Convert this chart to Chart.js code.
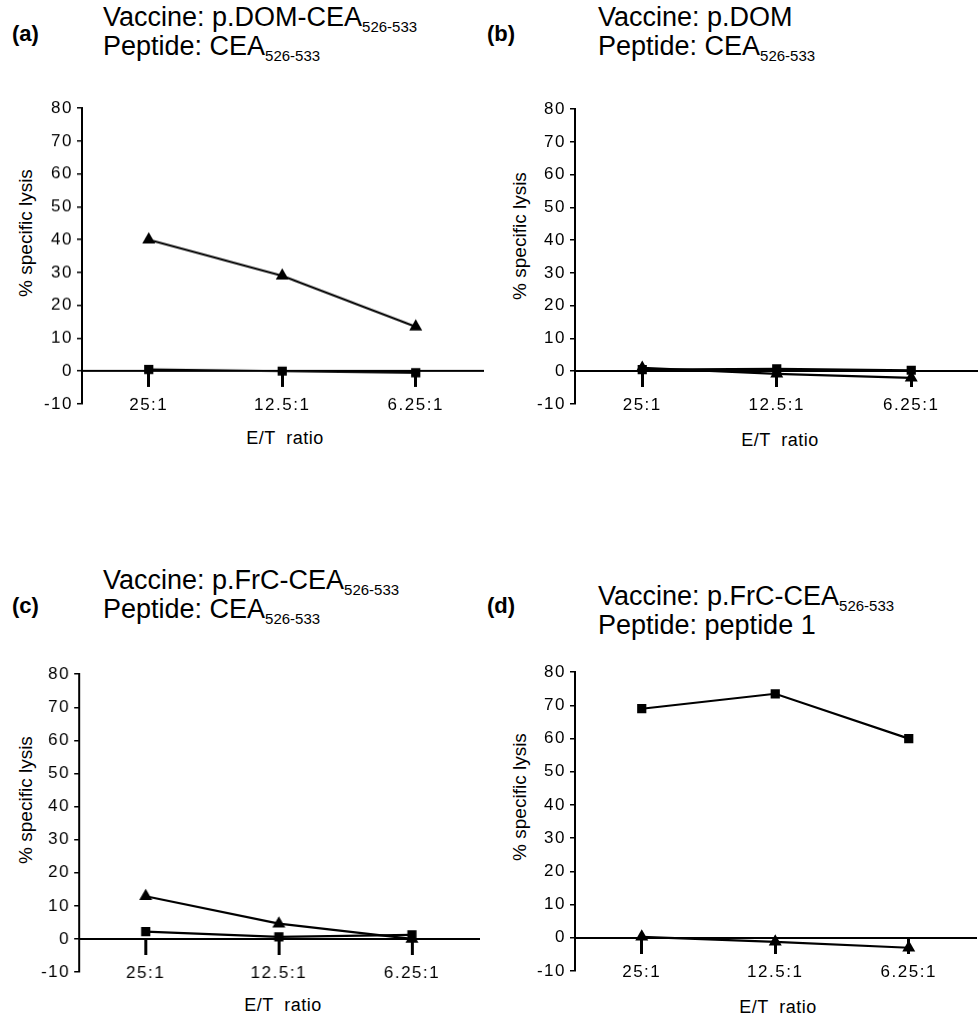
<!DOCTYPE html>
<html>
<head>
<meta charset="utf-8">
<script src="https://cdn.jsdelivr.net/npm/chart.js@4.4.0/dist/chart.umd.min.js"></script>
<style>
  body { margin: 0; width: 978px; height: 1017px; overflow: hidden; position: relative; background: #fff; color: #000;
         font-family: "Liberation Sans", Arial, sans-serif; }
  canvas { position: absolute; }
  .tag { position: absolute; font-weight: bold; font-size: 22px; line-height: 22px; }
  .ttl { position: absolute; font-size: 27px; line-height: 29px; white-space: nowrap; }
  .ttl sub { font-size: 15px; vertical-align: -6px; line-height: 0; }
  .ylab { position: absolute; font-size: 19px; white-space: nowrap; transform: translate(-50%, -50%) rotate(-90deg); }
  .xlab { position: absolute; font-size: 18px; white-space: pre; letter-spacing: 0.5px; transform: translate(-50%, -50%); }
</style>
</head>
<body>

<div class="tag" style="left:12px;top:23px">(a)</div>
<div class="ttl" style="left:103px;top:3px">Vaccine: p.DOM-CEA<sub>526-533</sub><br>Peptide: CEA<sub>526-533</sub></div>
<div class="tag" style="left:487px;top:23px">(b)</div>
<div class="ttl" style="left:598px;top:3px">Vaccine: p.DOM<br>Peptide: CEA<sub>526-533</sub></div>
<div class="tag" style="left:12px;top:595px">(c)</div>
<div class="ttl" style="left:103px;top:566px">Vaccine: p.FrC-CEA<sub>526-533</sub><br>Peptide: CEA<sub>526-533</sub></div>
<div class="tag" style="left:487px;top:595px">(d)</div>
<div class="ttl" style="left:598px;top:582px">Vaccine: p.FrC-CEA<sub>526-533</sub><br>Peptide: peptide 1</div>

<div class="ylab" style="left:26px;top:233px">% specific lysis</div>
<div class="ylab" style="left:520px;top:236px">% specific lysis</div>
<div class="ylab" style="left:26px;top:800px">% specific lysis</div>
<div class="ylab" style="left:520px;top:797px">% specific lysis</div>

<div class="xlab" style="left:285px;top:438px">E/T  ratio</div>
<div class="xlab" style="left:780px;top:440px">E/T  ratio</div>
<div class="xlab" style="left:283px;top:1005px">E/T  ratio</div>
<div class="xlab" style="left:778px;top:1007px">E/T  ratio</div>

<canvas id="chartA"></canvas>
<canvas id="chartB"></canvas>
<canvas id="chartC"></canvas>
<canvas id="chartD"></canvas>

<script>
// E/T ratios on the x axis
const ratios = ['25:1', '12.5:1', '6.25:1'];
// y axis range
const yMin = -10;
const yMax = 80;
const yStep = 10;

// (a) vaccine p.DOM-CEA526-533, peptide CEA526-533
const triangleA = [40, 29, 13.5];
const squareA = [0.5, 0, -0.5];
// (b) vaccine p.DOM, peptide CEA526-533
const triangleB = [1, -0.8, -2];
const squareB = [0.5, 0.7, 0.3];
// (c) vaccine p.FrC-CEA526-533, peptide CEA526-533
const triangleC = [12.9, 4.6, 0];
const squareC = [2.2, 0.6, 1.2];
// (d) vaccine p.FrC-CEA526-533, peptide peptide 1
const triangleD = [0.3, -1.2, -3];
const squareD = [69, 73.5, 60];

const tickFont = { family: '"Liberation Sans", Arial, sans-serif', size: 17 };

// the printed figure uses slightly spaced digits
const spacing = {
  id: 'spacing',
  beforeDraw(chart) { chart.ctx.letterSpacing = '1.5px'; },
  afterDraw(chart) { chart.ctx.letterSpacing = '0px'; }
};

function makeChart(id, box, triangles, squares) {
  const cv = document.getElementById(id);
  const padTop = 10, padBottom = 22;
  const w = box.right - box.left;
  const h = padTop + (box.bottom - box.top) + padBottom;
  cv.style.left = box.left + 'px';
  cv.style.top = (box.top - padTop) + 'px';
  cv.style.width = w + 'px';
  cv.style.height = h + 'px';
  cv.width = w;
  cv.height = h;

  new Chart(cv, {
    type: 'line',
    data: {
      labels: ratios,
      datasets: [
        {
          data: triangles,
          borderColor: '#000',
          backgroundColor: '#000',
          borderWidth: 2.2,
          pointStyle: 'triangle',
          pointRadius: 7.5,
          pointBorderWidth: 0,
          tension: 0
        },
        {
          data: squares,
          borderColor: '#000',
          backgroundColor: '#000',
          borderWidth: 2.2,
          pointStyle: 'rect',
          pointRadius: 6.5,
          pointBorderWidth: 0,
          tension: 0
        }
      ]
    },
    options: {
      responsive: false,
      animation: false,
      layout: { padding: { top: padTop, bottom: padBottom, left: 0, right: 0 } },
      plugins: { legend: { display: false }, tooltip: { enabled: false } },
      scales: {
        x: {
          axis: 'x',
          position: { y: 0 },
          offset: true,
          grid: { drawOnChartArea: false, offset: false, tickLength: 15, lineWidth: 3, color: '#000' },
          border: { color: '#000', width: 2 },
          ticks: { color: '#000', font: tickFont, padding: 9, maxRotation: 0, autoSkip: false }
        },
        y: {
          min: yMin,
          max: yMax,
          grid: { drawOnChartArea: false, tickLength: 5, lineWidth: 1.5, color: '#000' },
          border: { color: '#000', width: 2 },
          ticks: { color: '#000', font: tickFont, stepSize: yStep, padding: 4 },
          afterFit: s => { s.width = box.axisX - box.left; }
        }
      }
    },
    plugins: [spacing]
  });
}

makeChart('chartA', { left: 0, axisX: 82, right: 490, top: 104, bottom: 403.5 }, triangleA, squareA);
makeChart('chartB', { left: 490, axisX: 575, right: 986, top: 105, bottom: 404 }, triangleB, squareB);
makeChart('chartC', { left: 0, axisX: 79, right: 485.5, top: 670, bottom: 972 }, triangleC, squareC);
makeChart('chartD', { left: 490, axisX: 575, right: 983, top: 668, bottom: 971 }, triangleD, squareD);
</script>
</body>
</html>
